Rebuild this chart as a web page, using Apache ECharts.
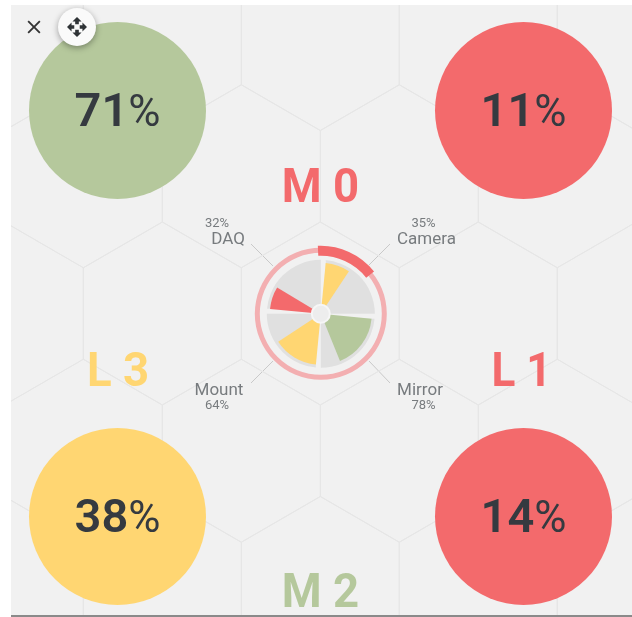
<!DOCTYPE html>
<html>
<head>
<meta charset="utf-8">
<title>Module status</title>
<style>
  html, body { margin: 0; padding: 0; background: #fff; }
  #chart { width: 632px; height: 617px; }
</style>
<script src="https://cdn.jsdelivr.net/npm/echarts@6/dist/echarts.min.js"></script>
</head>
<body>
<div id="chart"></div>
<script>
// corner discs
const cornerNames = ['M 0', 'L 1', 'M 2', 'L 3']
const cornerScores = [71, 11, 38, 14]
const cornerColors = ['#b5c89c', '#f36a6c', '#ffd672', '#f36a6c']

// rose in the middle, clockwise from the top right
const moduleNames = ['Camera', 'Mirror', 'Mount', 'DAQ']
const moduleValues = [35, 78, 64, 32]
const moduleColors = ['#ffd672', '#b5c89c', '#ffd672', '#f36a6c']

// share of the outer ring that is highlighted
const ringValue = 15

const hexRows = [-2, -1, 0, 1, 2]
const hexColumns = [-3, -2, -1, 0, 1, 2, 3]

const RED = '#f36a6c'
const GREEN = '#b5c89c'
const YELLOW = '#ffd672'
const CENTER = [320.8, 313.8]
const FONT = 'Roboto, sans-serif'
const LABEL_COLOR = '#777b7e'

const hexData = []
hexRows.forEach(row => {
  hexColumns.forEach(col => {
    hexData.push([row % 2 === 0 ? col : col + 0.5, row])
  })
})

function renderHex(params, api) {
  const c = api.coord([api.value(0), api.value(1)])
  const size = api.size([1, 1])
  const w = size[0] / 2
  const r = size[1] * 2 / 3
  return {
    type: 'polygon',
    shape: {
      points: [
        [c[0], c[1] - r], [c[0] + w, c[1] - r / 2], [c[0] + w, c[1] + r / 2],
        [c[0], c[1] + r], [c[0] - w, c[1] + r / 2], [c[0] - w, c[1] - r / 2]
      ]
    },
    style: { fill: 'none', stroke: '#e6e6e6', lineWidth: 1 }
  }
}

// grey blades of the pinwheel: a disc cut by a rect that is shifted off the centre
const bladeBoxes = [
  { x: 5, y: -60, width: 55, height: 60 },
  { x: 0, y: 5, width: 60, height: 55 },
  { x: -60, y: 0, width: 55, height: 60 },
  { x: -60, y: -60, width: 60, height: 55 }
]

function renderBlade(params, api) {
  const box = bladeBoxes[api.value(0)]
  return {
    type: 'sector',
    shape: { cx: CENTER[0], cy: CENTER[1], r: 54, r0: 0, startAngle: 0, endAngle: Math.PI * 2 },
    style: { fill: '#e0e0e0' },
    clipPath: {
      type: 'rect',
      shape: { x: CENTER[0] + box.x, y: CENTER[1] + box.y, width: box.width, height: box.height }
    }
  }
}

// toolbar icons, the graphic component has no path type
const CLOSE_ICON = 'M19 6.41L17.59 5 12 10.59 6.41 5 5 6.41 10.59 12 5 17.59 6.41 19 12 13.41 17.59 19 19 17.59 13.41 12z'
const MOVE_ICON = 'M10 9h4V6h3l-5-5-5 5h3v3zm-1 1H6V7l-5 5 5 5v-3h3v-4zm14 2l-5-5v3h-3v4h3v3l5-5zm-9 3h-4v3H7l5 5 5-5h-3v-3z'

function renderToolbar() {
  return {
    type: 'group',
    children: [
      {
        type: 'path',
        shape: { pathData: CLOSE_ICON, layout: 'cover', x: 27.5, y: 20.5, width: 13, height: 13 },
        style: { fill: '#333' }
      },
      {
        type: 'circle',
        shape: { cx: 77, cy: 27, r: 19 },
        style: { fill: '#fafafa', shadowBlur: 6, shadowOffsetY: 2, shadowColor: 'rgba(0,0,0,0.35)' }
      },
      {
        type: 'path',
        shape: { pathData: MOVE_ICON, layout: 'cover', x: 67, y: 17, width: 20, height: 20 },
        style: { fill: '#2f3336' }
      }
    ]
  }
}

// each colored wedge takes its percentage of an 80 degree blade
const wedgeData = []
moduleValues.forEach((v, i) => {
  const deg = v * 0.8
  wedgeData.push({ value: deg, itemStyle: { color: moduleColors[i] } })
  wedgeData.push({ value: 90 - deg, itemStyle: { color: 'transparent' } })
})

const cornerSeries = [[117.5, 110.5], [523.5, 110.5], [117.5, 516.5], [523.5, 516.5]].map((pos, i) => ({
  type: 'pie',
  silent: true,
  center: pos,
  radius: [0, 88.5],
  z: 3,
  data: [{
    value: cornerScores[i],
    itemStyle: { color: cornerColors[i] }
  }],
  label: {
    position: 'center',
    offset: [0, 4],
    formatter: p => '{n|' + p.value + '}{p|%}',
    rich: {
      n: { fontFamily: FONT, fontSize: 47, fontWeight: 600, color: '#353a40' },
      p: { fontFamily: FONT, fontSize: 44, fontWeight: 400, color: '#353a40' }
    }
  },
  labelLine: { show: false }
}))

function text(x, y, str, size, color, weight, scaleX) {
  return {
    type: 'text',
    z: 20,
    x: x,
    y: y,
    scaleX: scaleX || 1,
    style: {
      text: str,
      fontFamily: FONT,
      fontSize: size,
      fontWeight: weight || 400,
      fill: color,
      textAlign: 'center',
      textVerticalAlign: 'middle'
    }
  }
}

function leader(x1, y1, x2, y2) {
  return {
    type: 'line',
    z: 1,
    shape: { x1: x1, y1: y1, x2: x2, y2: y2 },
    style: { stroke: '#c9c9c9', lineWidth: 1 }
  }
}

const graphics = [
  leader(369, 265, 390, 244),
  leader(369, 361, 390, 383),
  leader(273, 361, 251, 383),
  leader(273, 266, 251, 244),
  text(426.5, 239.5, moduleNames[0], 17, LABEL_COLOR),
  text(423.5, 224, moduleValues[0] + '%', 13, LABEL_COLOR),
  text(420, 391, moduleNames[1], 17, LABEL_COLOR),
  text(423.5, 405.5, moduleValues[1] + '%', 13, LABEL_COLOR),
  text(219, 391, moduleNames[2], 17, LABEL_COLOR),
  text(217, 405.5, moduleValues[2] + '%', 13, LABEL_COLOR),
  text(228, 239.5, moduleNames[3], 17, LABEL_COLOR),
  text(217, 224, moduleValues[3] + '%', 13, LABEL_COLOR),
  text(320.5, 190, cornerNames[0], 49, RED, 700, 0.93),
  text(521.5, 374, cornerNames[1], 49, RED, 700, 0.9),
  text(320.5, 595, cornerNames[2], 49, GREEN, 700, 0.93),
  text(118, 374, cornerNames[3], 49, YELLOW, 700, 0.93),
  {
    type: 'line',
    z: 20,
    shape: { x1: 11, y1: 616, x2: 632, y2: 616 },
    style: { stroke: '#8a8a8a', lineWidth: 2 }
  }
]

const chart = echarts.init(document.getElementById('chart'))
chart.setOption({
  animation: false,
  backgroundColor: '#fff',
  grid: {
    show: true,
    left: 11,
    top: 5,
    width: 621,
    height: 610,
    backgroundColor: '#f1f1f1',
    borderWidth: 0
  },
  // one x unit is a hexagon width, one y unit is a hexagon row
  xAxis: { type: 'value', show: false, min: -1.958, max: 1.973 },
  yAxis: { type: 'value', show: false, inverse: true, min: -2.248, max: 2.197 },
  graphic: graphics,
  series: [
    {
      type: 'custom',
      silent: true,
      coordinateSystem: 'cartesian2d',
      clip: true,
      z: 1,
      encode: { x: 0, y: 1 },
      data: hexData,
      renderItem: renderHex
    },
    {
      type: 'custom',
      silent: true,
      coordinateSystem: 'none',
      z: 2,
      data: moduleNames.map((n, i) => [i]),
      renderItem: renderBlade
    },
    {
      type: 'pie',
      silent: true,
      center: CENTER,
      radius: [0, 51],
      startAngle: 84.5,
      z: 3,
      label: { show: false },
      labelLine: { show: false },
      data: wedgeData
    },
    {
      type: 'pie',
      silent: true,
      center: CENTER,
      radius: [0, 9],
      z: 4,
      label: { show: false },
      labelLine: { show: false },
      itemStyle: { color: '#ededed', borderColor: '#f6f6f6', borderWidth: 2 },
      data: [1]
    },
    {
      type: 'pie',
      silent: true,
      center: CENTER,
      radius: [61, 66],
      z: 3,
      label: { show: false },
      labelLine: { show: false },
      itemStyle: { color: '#f3afb1' },
      data: [1]
    },
    {
      type: 'pie',
      silent: true,
      center: CENTER,
      radius: [58, 68],
      startAngle: 92.5,
      z: 4,
      label: { show: false },
      labelLine: { show: false },
      data: [
        { value: ringValue, itemStyle: { color: RED } },
        { value: 100 - ringValue, itemStyle: { color: 'transparent' } }
      ]
    },
    {
      type: 'custom',
      silent: true,
      coordinateSystem: 'none',
      z: 30,
      data: [[0]],
      renderItem: renderToolbar
    }
  ].concat(cornerSeries)
})
</script>
</body>
</html>
